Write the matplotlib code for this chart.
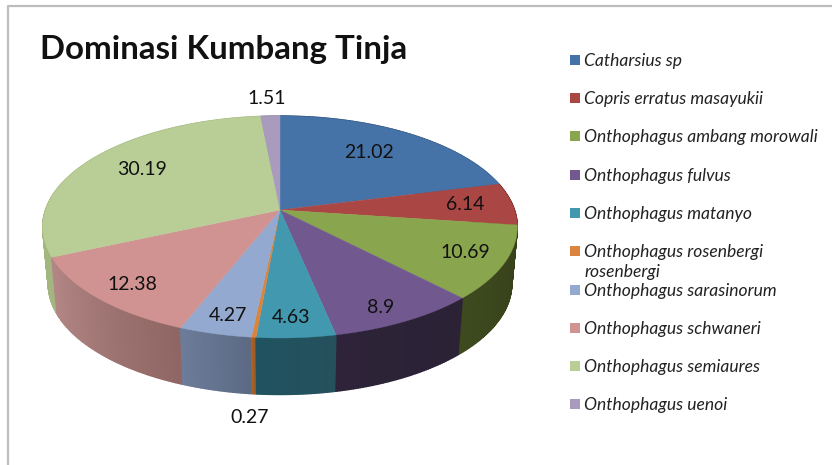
import matplotlib
matplotlib.use("Agg")
import matplotlib.pyplot as plt
import numpy as np

species = ['Catharsius sp', 'Copris erratus masayukii', 'Onthophagus ambang morowali',
           'Onthophagus fulvus', 'Onthophagus matanyo', 'Onthophagus rosenbergi\nrosenbergi',
           'Onthophagus sarasinorum', 'Onthophagus schwaneri', 'Onthophagus semiaures',
           'Onthophagus uenoi']
values = [21.02, 6.14, 10.69, 8.9, 4.63, 0.27, 4.27, 12.38, 30.19, 1.51]
value_labels = ['21.02', '6.14', '10.69', '8.9', '4.63', '0.27', '4.27', '12.38', '30.19', '1.51']

colors = ['#4572A7', '#AA4643', '#89A54E', '#71588F', '#4198AF',
          '#DB843D', '#93A9CF', '#D19392', '#B9CD96', '#A99BBD']
wall_left = ['#3a5f8a', '#7a3230', '#3e4a1e', '#2e2338', '#1f5360',
             '#b0662a', '#6d7d9a', '#b48886', '#a8bc86', '#8d80a0']
wall_right = ['#2c4a6e', '#5a2422', '#363f1a', '#2b2236', '#25505c',
              '#a05c26', '#5c6a84', '#8f6664', '#a3b680', '#7d7190']
label_pos = [(369, 152), (465, 204), (465, 252), (381, 307), (291, 317),
             (250, 417), (228, 315), (132, 284), (142, 169), (267, 98)]
legend_y = [61, 99, 137, 176, 214, 252, 291, 329, 367, 405]

plt.rcParams['font.family'] = ['Lato', 'DejaVu Sans']


def project(t, cx, cy, a, b, k):
    # clockwise angle from the top, with a bit of perspective towards the back
    x = np.sin(t)
    y = np.cos(t)
    d = 1 + k * y
    return cx + a * x / d, cy - b * y / d


def top_face(t):
    return project(t, 280, 210, 234.5, 108.4, 0.153)


def bottom_face(t):
    return project(t, 280, 267, 229, 108, 0.153)


def mix(c1, c2, f):
    c1 = np.array(matplotlib.colors.to_rgb(c1))
    c2 = np.array(matplotlib.colors.to_rgb(c2))
    return c1 + (c2 - c1) * f


fig = plt.figure(figsize=(8.32, 4.65), dpi=100)
ax = fig.add_axes([0, 0, 1, 1])
ax.set_xlim(0, 832)
ax.set_ylim(465, 0)
ax.axis('off')

# chart frame
ax.plot([8, 8, 832], [465, 6, 6], color='#bdbdbd', lw=1.6)

edges = np.concatenate([[0], np.cumsum(values)]) / np.sum(values) * 2 * np.pi

# side wall, back to front, in thin strips for the shading
strips = []
for i in range(len(values)):
    n = max(int((edges[i + 1] - edges[i]) / 0.01), 2)
    ts = np.linspace(edges[i], edges[i + 1], n + 1)
    for j in range(n):
        strips.append((ts[j], ts[j + 1], mix(wall_right[i], wall_left[i], j / n)))
strips.sort(key=lambda s: -np.cos(s[0]))
for t0, t1, c in strips:
    x0, y0 = top_face(np.array([t0, t1]))
    x1, y1 = bottom_face(np.array([t1, t0]))
    ax.fill(np.r_[x0, x1], np.r_[y0, y1], color=c, lw=1.0)

# top of the pie
for i in range(len(values)):
    ts = np.linspace(edges[i], edges[i + 1], 120)
    x, y = top_face(ts)
    ax.fill(np.r_[280, x], np.r_[210, y], color=colors[i], lw=0.3)

for txt, (x, y) in zip(value_labels, label_pos):
    ax.text(x, y, txt, fontsize=14, color='#111111', ha='center', va='center')

ax.text(40, 50, 'Dominasi Kumbang Tinja', fontsize=23.8, fontweight='bold',
        color='#111111', ha='left', va='center')

# legend
for i in range(len(species)):
    ax.add_patch(plt.Rectangle((570, legend_y[i] - 6), 10, 10, color=colors[i], lw=0))
    if '\n' in species[i]:
        ax.text(584, legend_y[i] + 10, species[i], fontsize=12.6, style='italic',
                color='#222222', ha='left', va='center', linespacing=1.3)
    else:
        ax.text(584, legend_y[i], species[i], fontsize=12.6, style='italic',
                color='#222222', ha='left', va='center')

plt.savefig('out.png', dpi=100)
plt.close(fig=fig)
